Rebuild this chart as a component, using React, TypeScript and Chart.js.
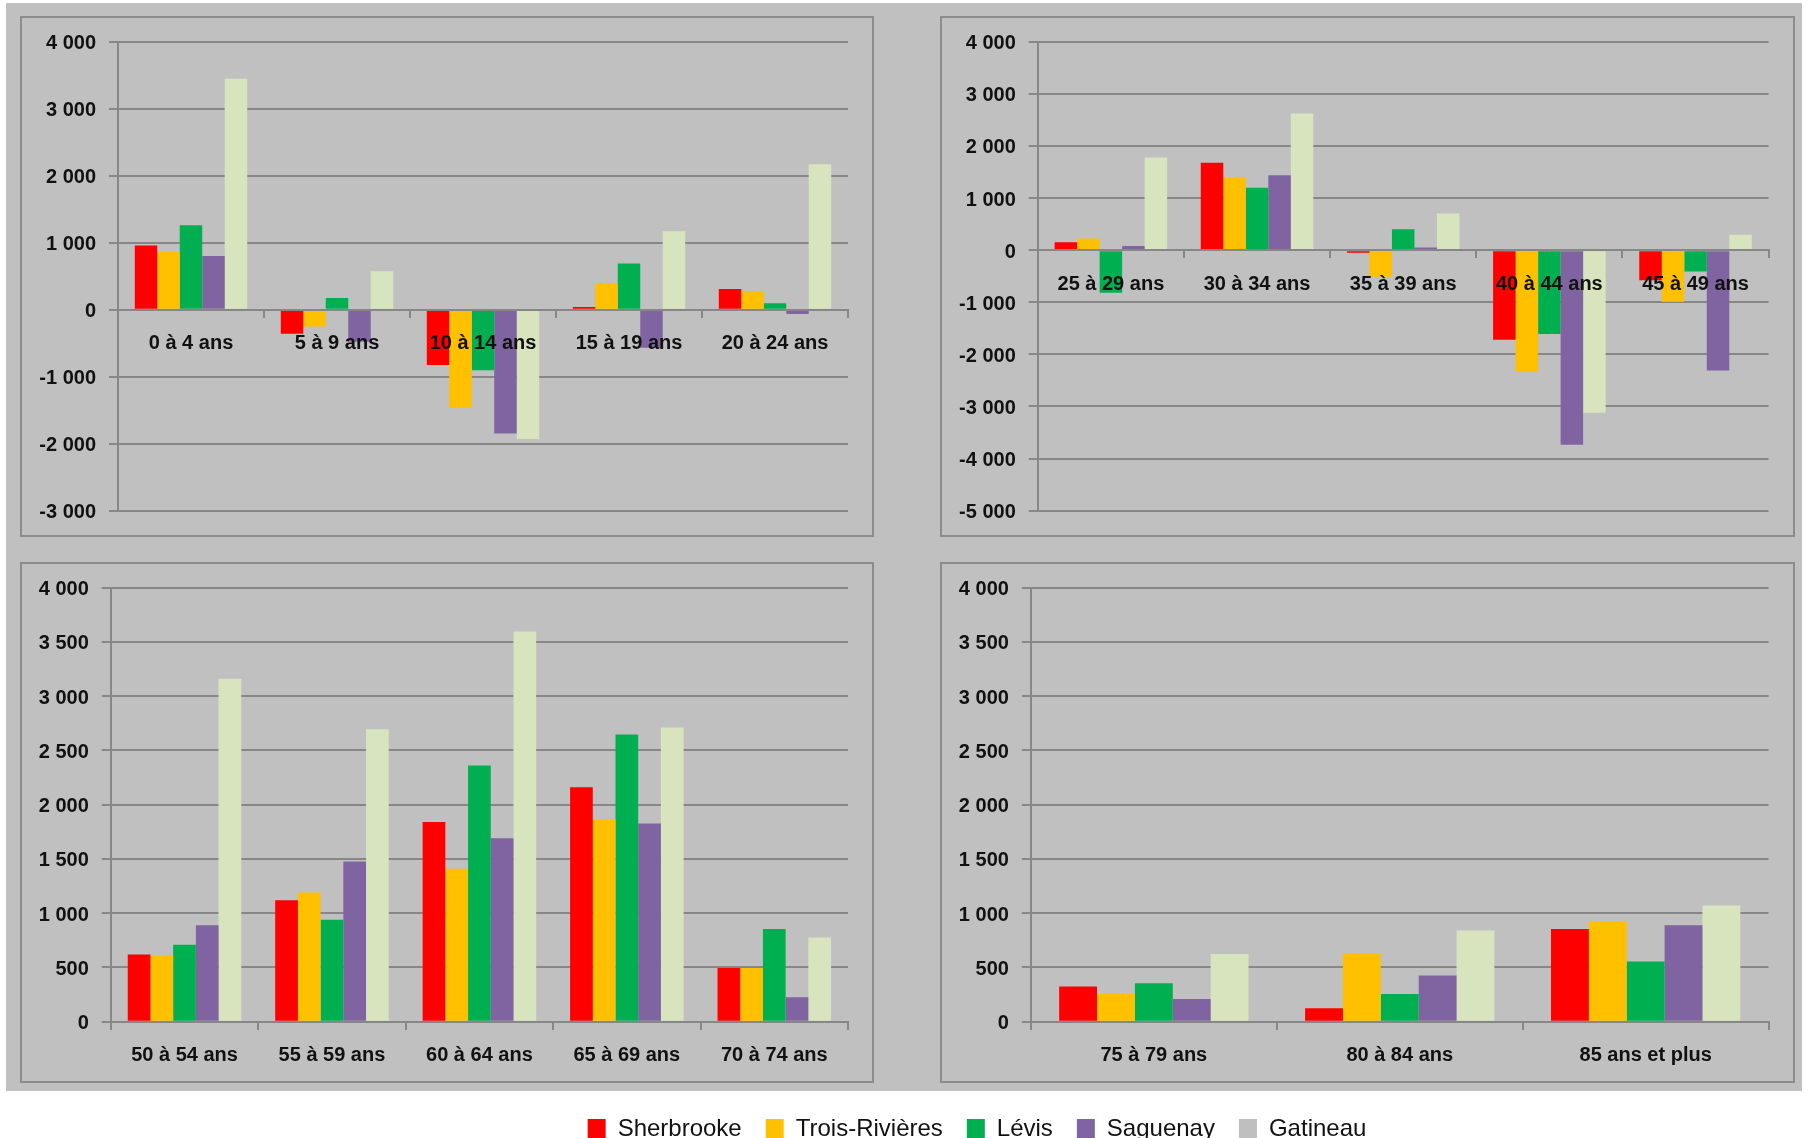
import React, { useEffect, useRef } from 'react';
import { Chart, registerables } from 'chart.js';

Chart.register(...registerables);

// ---------- data ----------
const SERIES = ['Sherbrooke', 'Trois-Rivières', 'Lévis', 'Saguenay', 'Gatineau'];
const BAR_COLORS = ['#ff0000', '#ffc000', '#00b050', '#8064a2', '#d7e4bd'];
const LEGEND_COLORS = ['#ff0000', '#ffc000', '#00b050', '#8064a2', '#bfbfbf'];

const AGES_A = ['0 à 4 ans', '5 à 9 ans', '10 à 14 ans', '15 à 19 ans', '20 à 24 ans'];
const SHERBROOKE_A = [960, -360, -825, 40, 310];
const TROIS_RIVIERES_A = [860, -250, -1465, 400, 280];
const LEVIS_A = [1260, 175, -905, 690, 95];
const SAGUENAY_A = [800, -480, -1850, -570, -65];
const GATINEAU_A = [3450, 575, -1930, 1170, 2170];

const AGES_B = ['25 à 29 ans', '30 à 34 ans', '35 à 39 ans', '40 à 44 ans', '45 à 49 ans'];
const SHERBROOKE_B = [150, 1680, -50, -1720, -580];
const TROIS_RIVIERES_B = [225, 1400, -510, -2340, -990];
const LEVIS_B = [-820, 1200, 400, -1610, -410];
const SAGUENAY_B = [80, 1440, 50, -3735, -2310];
const GATINEAU_B = [1780, 2625, 705, -3120, 295];

const AGES_C = ['50 à 54 ans', '55 à 59 ans', '60 à 64 ans', '65 à 69 ans', '70 à 74 ans'];
const SHERBROOKE_C = [620, 1120, 1840, 2160, 495];
const TROIS_RIVIERES_C = [605, 1190, 1410, 1865, 495];
const LEVIS_C = [710, 940, 2360, 2645, 855];
const SAGUENAY_C = [890, 1475, 1690, 1825, 225];
const GATINEAU_C = [3160, 2695, 3595, 2710, 775];

const AGES_D = ['75 à 79 ans', '80 à 84 ans', '85 ans et plus'];
const SHERBROOKE_D = [325, 125, 855];
const TROIS_RIVIERES_D = [255, 625, 925];
const LEVIS_D = [355, 255, 555];
const SAGUENAY_D = [210, 425, 890];
const GATINEAU_D = [625, 840, 1070];

const RANGE_A = [-3000, 4000, 1000];
const RANGE_B = [-5000, 4000, 1000];
const RANGE_C = [0, 4000, 500];
const RANGE_D = [0, 4000, 500];

// ---------- style ----------
const FONT = "'Liberation Sans', Arial, sans-serif";
const GRID = '#878787';
const BORDER = '#8c8c8c';
const BG = '#c0c0c0';

const fmt = (v: number) => {
  const s = Math.abs(v).toString().replace(/\B(?=(\d{3})+(?!\d))/g, ' ');
  return (v < 0 ? '-' : '') + s;
};

type Panel = {
  labels: string[];
  series: number[][];
  range: number[];
  box: { left: number; top: number; width: number; height: number };
  area: { left: number; top: number; right: number; bottom: number };
};

const PANELS: Panel[] = [
  {
    labels: AGES_A,
    series: [SHERBROOKE_A, TROIS_RIVIERES_A, LEVIS_A, SAGUENAY_A, GATINEAU_A],
    range: RANGE_A,
    box: { left: 20, top: 16, width: 854, height: 521 },
    area: { left: 98, top: 25.8, right: 828, bottom: 494.6 },
  },
  {
    labels: AGES_B,
    series: [SHERBROOKE_B, TROIS_RIVIERES_B, LEVIS_B, SAGUENAY_B, GATINEAU_B],
    range: RANGE_B,
    box: { left: 940, top: 16, width: 855, height: 521 },
    area: { left: 97.8, top: 25.8, right: 828.6, bottom: 494.6 },
  },
  {
    labels: AGES_C,
    series: [SHERBROOKE_C, TROIS_RIVIERES_C, LEVIS_C, SAGUENAY_C, GATINEAU_C],
    range: RANGE_C,
    box: { left: 20, top: 562, width: 854, height: 521 },
    area: { left: 90.8, top: 25.5, right: 828, bottom: 459.75 },
  },
  {
    labels: AGES_D,
    series: [SHERBROOKE_D, TROIS_RIVIERES_D, LEVIS_D, SAGUENAY_D, GATINEAU_D],
    range: RANGE_D,
    box: { left: 940, top: 562, width: 855, height: 521 },
    area: { left: 90.9, top: 25.5, right: 828.6, bottom: 459.75 },
  },
];

function PanelChart({ panel }: { panel: Panel }) {
  const ref = useRef<HTMLCanvasElement | null>(null);
  useEffect(() => {
    if (!ref.current) return;
    const { labels, series, range, box, area } = panel;
    const chart = new Chart(ref.current, {
      type: 'bar',
      data: {
        labels,
        datasets: SERIES.map((name, i) => ({
          label: name,
          data: series[i],
          backgroundColor: BAR_COLORS[i],
          borderWidth: 0,
          categoryPercentage: 0.77,
          barPercentage: 1,
        })),
      },
      options: {
        animation: false,
        responsive: false,
        maintainAspectRatio: false,
        layout: {
          padding: {
            left: 0,
            top: area.top,
            right: box.width - area.right,
            bottom: box.height - area.bottom,
          },
        },
        plugins: { legend: { display: false }, tooltip: { enabled: false } },
        scales: {
          x: {
            position: { y: 0 } as any,
            grid: {
              display: true,
              drawOnChartArea: false,
              drawTicks: true,
              tickLength: 7,
              color: GRID,
              lineWidth: 2,
              offset: true,
            },
            border: { display: true, color: GRID, width: 2, z: 1 },
            ticks: {
              font: { family: FONT, size: 20, weight: 'bold' },
              color: '#111',
              padding: 15,
              maxRotation: 0,
              autoSkip: false,
              z: 1,
            },
          },
          y: {
            min: range[0],
            max: range[1],
            afterFit: (s: any) => {
              s.width = area.left;
            },
            ticks: {
              stepSize: range[2],
              autoSkip: false,
              callback: (v: any) => fmt(Number(v)),
              font: { family: FONT, size: 20, weight: 'bold' },
              color: '#111',
              padding: 13,
              labelOffset: 2,
            },
            grid: { color: GRID, lineWidth: 2, tickLength: 9 },
            border: { color: GRID, width: 2 },
          },
        },
      },
    } as any);
    return () => chart.destroy();
  }, [panel]);
  const { box } = panel;
  return (
    <>
      <div
        style={{
          position: 'absolute',
          left: box.left,
          top: box.top,
          width: box.width,
          height: box.height,
          border: `2px solid ${BORDER}`,
          boxSizing: 'border-box',
        }}
      />
      <canvas
        ref={ref}
        width={box.width}
        height={box.height}
        style={{ position: 'absolute', left: box.left, top: box.top, width: box.width, height: box.height }}
      />
    </>
  );
}

function LegendChart() {
  const ref = useRef<HTMLCanvasElement | null>(null);
  useEffect(() => {
    if (!ref.current) return;
    const chart = new Chart(ref.current, {
      type: 'bar',
      data: {
        labels: [],
        datasets: SERIES.map((name, i) => ({
          label: name,
          data: [],
          backgroundColor: LEGEND_COLORS[i],
          borderWidth: 0,
        })),
      },
      options: {
        animation: false,
        responsive: false,
        maintainAspectRatio: false,
        layout: { padding: 0 },
        scales: { x: { display: false }, y: { display: false } },
        plugins: {
          tooltip: { enabled: false },
          legend: {
            display: true,
            position: 'top',
            labels: {
              boxWidth: 18,
              boxHeight: 20,
              padding: 24,
              color: '#111',
              font: { family: FONT, size: 24 },
            },
          },
        },
      },
    } as any);
    return () => chart.destroy();
  }, []);
  return (
    <canvas
      ref={ref}
      width={1634}
      height={90}
      style={{ position: 'absolute', left: 160, top: 1093, width: 1634, height: 90 }}
    />
  );
}

export default function App() {
  return (
    <div
      style={{
        position: 'absolute',
        left: 0,
        top: 0,
        width: 1808,
        height: 1138,
        overflow: 'hidden',
        background: '#ffffff',
      }}
    >
      <div style={{ position: 'absolute', left: 6, top: 3, width: 1796, height: 1088, background: BG }} />
      {PANELS.map((p, i) => (
        <PanelChart key={i} panel={p} />
      ))}
      <LegendChart />
    </div>
  );
}
